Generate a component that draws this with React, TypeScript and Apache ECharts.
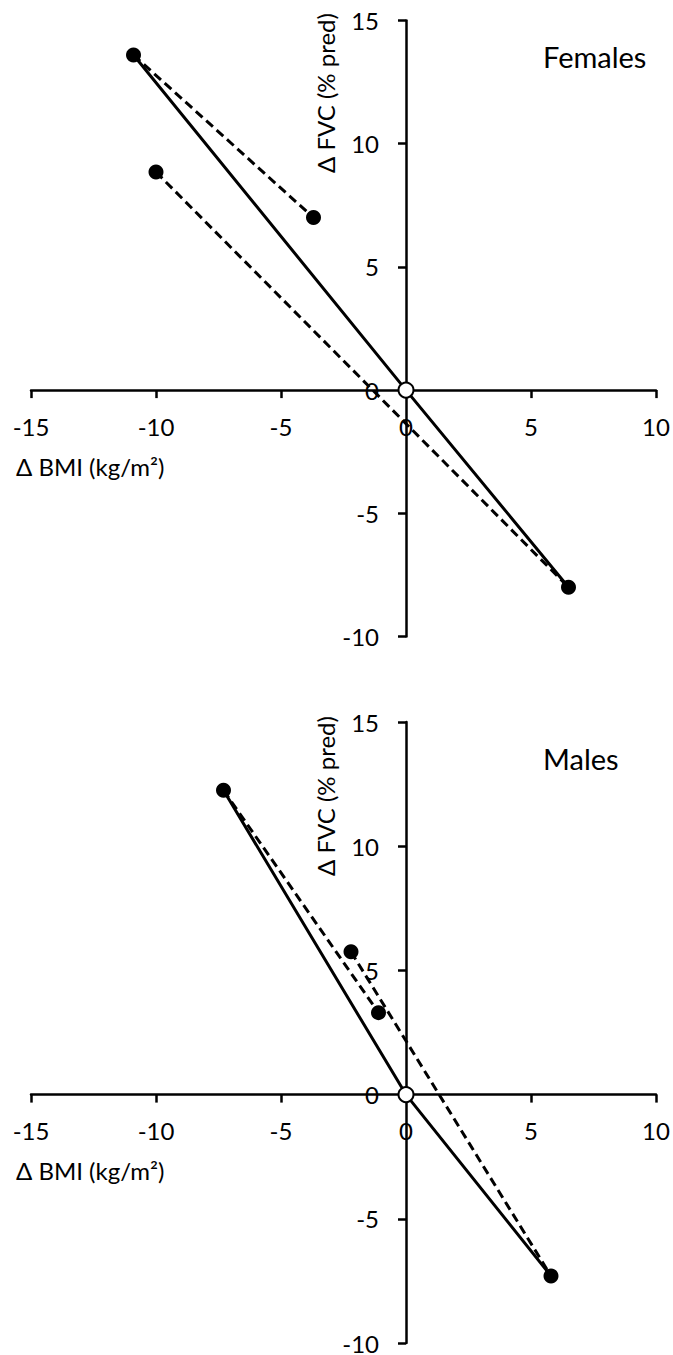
import React, { useEffect, useRef } from "react";
import * as echarts from "echarts";

// Axis ranges and tick step (both panels)
const X_MIN = -15;
const X_MAX = 10;
const Y_MIN = -10;
const Y_MAX = 15;
const TICK_STEP = 5;

// Females panel
const femalesSolid: number[][] = [[-10.9, 13.6], [0, 0], [6.5, -8.0]];
const femalesDashedA: number[][] = [[-10.9, 13.6], [-3.7, 7.0]];
const femalesDashedB: number[][] = [[-10.0, 8.85], [6.5, -8.0]];
const femalesPoints: number[][] = [[-10.9, 13.6], [-10.0, 8.85], [-3.7, 7.0], [6.5, -8.0]];

// Males panel
const malesSolid: number[][] = [[-7.3, 12.25], [0, 0], [5.8, -7.3]];
const malesDashedA: number[][] = [[-7.3, 12.25], [-1.1, 3.3]];
const malesDashedB: number[][] = [[-2.2, 5.75], [5.8, -7.3]];
const malesPoints: number[][] = [[-7.3, 12.25], [-2.2, 5.75], [-1.1, 3.3], [5.8, -7.3]];

const originPoint: number[][] = [[0, 0]];

const panelTitles = ["Females", "Males"];
const yName = "Δ FVC (% pred)";
const xName = "Δ BMI (kg/m²)";

const FONT = "Lato";

// grid geometry
const GRIDS = [
  { left: 31, top: 20.5, width: 625, height: 616 },
  { left: 31, top: 722, width: 625, height: 621 },
];

function axisX(gridIndex: number) {
  const g = GRIDS[gridIndex];
  const zeroFromBottom = ((0 - Y_MIN) / (Y_MAX - Y_MIN)) * g.height;
  return {
    gridIndex,
    type: "value",
    position: "bottom",
    min: X_MIN,
    max: X_MAX,
    interval: TICK_STEP,
    offset: -zeroFromBottom,
    axisLine: { onZero: false, lineStyle: { color: "#000", width: 2.5 } },
    axisTick: { show: true, length: 8, lineStyle: { color: "#000", width: 2.5 } },
    axisLabel: { fontSize: 24, lineHeight: 22, fontFamily: FONT, color: "#000", margin: 25 },
    splitLine: { show: false },
  };
}

function axisY(gridIndex: number) {
  const g = GRIDS[gridIndex];
  const zeroFromLeft = ((0 - X_MIN) / (X_MAX - X_MIN)) * g.width;
  return {
    gridIndex,
    type: "value",
    position: "left",
    min: Y_MIN,
    max: Y_MAX,
    interval: TICK_STEP,
    offset: -zeroFromLeft,
    axisLine: { onZero: false, lineStyle: { color: "#000", width: 2.5 } },
    axisTick: { show: true, length: 8, lineStyle: { color: "#000", width: 2.5 } },
    axisLabel: { fontSize: 24, lineHeight: 20, fontFamily: FONT, color: "#000", margin: 27 },
    splitLine: { show: false },
  };
}

function panelSeries(i: number, solid: number[][], dA: number[][], dB: number[][], pts: number[][]) {
  const base = { xAxisIndex: i, yAxisIndex: i, silent: true, clip: false };
  return [
    { ...base, type: "line", data: solid, symbol: "none", lineStyle: { color: "#000", width: 3 }, z: 2 },
    { ...base, type: "line", data: dA, symbol: "none", lineStyle: { color: "#000", width: 3, type: [9, 5] }, z: 2 },
    { ...base, type: "line", data: dB, symbol: "none", lineStyle: { color: "#000", width: 3, type: [9, 5] }, z: 2 },
    {
      ...base,
      type: "scatter",
      data: pts,
      symbol: "circle",
      symbolSize: 15,
      itemStyle: { color: "#000", opacity: 1 },
      z: 4,
    },
    {
      ...base,
      type: "scatter",
      data: originPoint,
      symbol: "circle",
      symbolSize: 15,
      itemStyle: { color: "#fff", borderColor: "#000", borderWidth: 2, opacity: 1 },
      z: 5,
    },
  ];
}

function textEl(text: string, x: number, y: number, size: number, align: string, rotation = 0) {
  return {
    type: "text",
    x,
    y,
    rotation,
    silent: true,
    style: { text, fontSize: size, fontFamily: FONT, fill: "#000", align, verticalAlign: "middle" },
  };
}

export default function App() {
  const ref = useRef<HTMLDivElement>(null);
  useEffect(() => {
    if (!ref.current) return;
    const chart = echarts.init(ref.current, null, { renderer: "svg" });
    const option = {
      animation: false,
      backgroundColor: "#fff",
      grid: GRIDS.map((g) => ({ ...g, containLabel: false, outerBoundsMode: "none" })),
      xAxis: [axisX(0), axisX(1)],
      yAxis: [axisY(0), axisY(1)],
      series: [
        ...panelSeries(0, femalesSolid, femalesDashedA, femalesDashedB, femalesPoints),
        ...panelSeries(1, malesSolid, malesDashedA, malesDashedB, malesPoints),
      ],
      graphic: [
        textEl(yName, 325, 93, 24, "center", Math.PI / 2),
        textEl(yName, 325, 796, 24, "center", Math.PI / 2),
        textEl(panelTitles[0], 543, 56, 29, "left"),
        textEl(panelTitles[1], 543, 758, 29, "left"),
        textEl(xName, 16, 466, 24, "left"),
        textEl(xName, 16, 1170, 24, "left"),
      ],
    };
    chart.setOption(option as any);
    return () => chart.dispose();
  }, []);
  return (
    <div
      ref={ref}
      style={{ position: "absolute", left: 0, top: 0, width: 673, height: 1355, background: "#fff" }}
    />
  );
}
